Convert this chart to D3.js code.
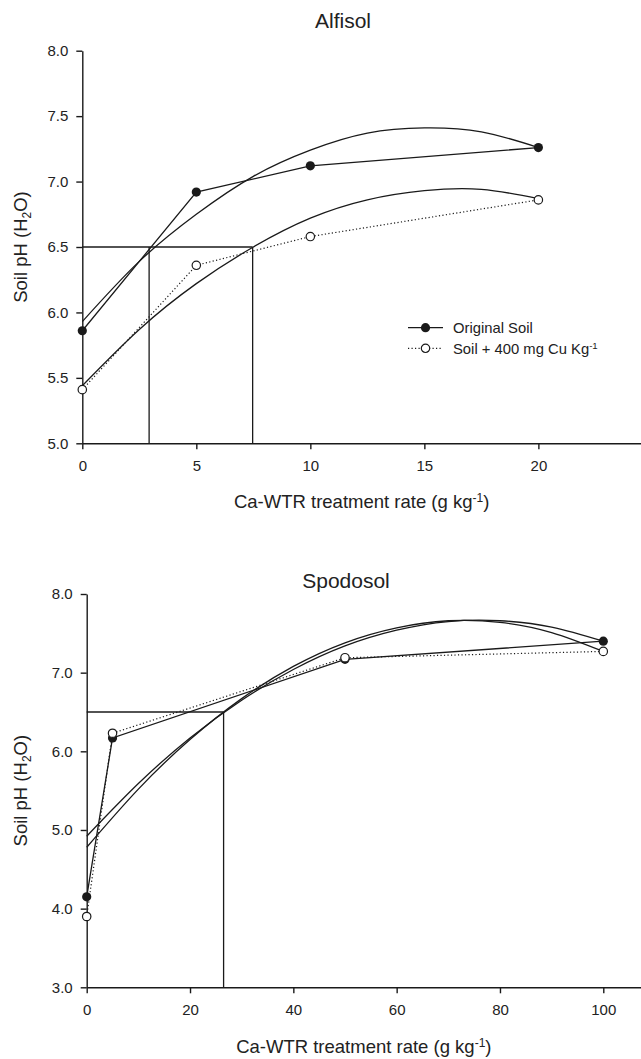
<!DOCTYPE html>
<html>
<head>
<meta charset="utf-8">
<script src="https://cdn.jsdelivr.net/npm/d3@7"></script>
<style>
  html, body { margin: 0; padding: 0; background: #fff; }
  svg { display: block; font-family: "Liberation Sans", Arial, Helvetica, sans-serif; }
</style>
</head>
<body>
<div id="chart"></div>
<script>
// Alfisol panel values
const alfisol_rates = [0, 5, 10, 20];
const alfisol_original = [5.86, 6.92, 7.12, 7.26];
const alfisol_cu = [5.41, 6.36, 6.58, 6.86];
const alfisol_fit_rates = [0, 2.5, 5, 7.5, 10, 12.5, 15, 17.5, 20];
const alfisol_fit_original = [5.93, 6.39, 6.75, 7.04, 7.24, 7.37, 7.41, 7.38, 7.26];
const alfisol_fit_cu = [5.44, 5.87, 6.22, 6.50, 6.72, 6.86, 6.93, 6.94, 6.87];
const alfisol_ref_ph = 6.5;
const alfisol_ref_rates = [2.93, 7.47];
const alfisol_x_ticks = [0, 5, 10, 15, 20];
const alfisol_y_ticks = [5.0, 5.5, 6.0, 6.5, 7.0, 7.5, 8.0];

// Spodosol panel values
const spodosol_rates = [0, 5, 50, 100];
const spodosol_original = [4.15, 6.17, 7.17, 7.40];
const spodosol_cu = [3.90, 6.23, 7.19, 7.27];
const spodosol_fit_rates = [0, 10, 20, 30, 40, 50, 60, 70, 80, 90, 100];
const spodosol_fit_original = [4.92, 5.59, 6.17, 6.65, 7.04, 7.34, 7.54, 7.65, 7.66, 7.58, 7.40];
const spodosol_fit_cu = [4.78, 5.52, 6.15, 6.67, 7.08, 7.38, 7.57, 7.66, 7.64, 7.51, 7.27];
const spodosol_ref_ph = 6.5;
const spodosol_ref_rates = [26.5];
const spodosol_x_ticks = [0, 20, 40, 60, 80, 100];
const spodosol_y_ticks = [3, 4, 5, 6, 7, 8];

const legend_labels = ["Original Soil", "Soil + 400 mg Cu Kg"];

const INK = "#1a1a1a";
const width = 641;
const height = 1059;

const svg = d3.select("#chart").append("svg")
  .attr("width", width)
  .attr("height", height)
  .attr("viewBox", `0 0 ${width} ${height}`);

function draw_panel(panel) {
  const x = d3.scaleLinear().domain(panel.x_domain).range(panel.x_range);
  const y = d3.scaleLinear().domain(panel.y_domain).range(panel.y_range);
  const g = svg.append("g");
  const y_base = panel.y_range[0];

  const x_axis = g.append("g")
    .attr("transform", `translate(0,${y_base})`)
    .call(d3.axisBottom(x).tickValues(panel.x_ticks).tickFormat(d3.format("d"))
      .tickSizeInner(6).tickSizeOuter(0).tickPadding(11));
  const y_axis = g.append("g")
    .attr("transform", `translate(${panel.x_range[0]},0)`)
    .call(d3.axisLeft(y).tickValues(panel.y_ticks).tickFormat(d3.format(".1f"))
      .tickSizeInner(6).tickSizeOuter(0).tickPadding(8));
  [x_axis, y_axis].forEach((axis) => {
    axis.attr("font-family", null).attr("font-size", 15);
    axis.selectAll("path, line").attr("stroke", INK).attr("stroke-width", 1.4);
    axis.selectAll("text").attr("fill", "#222");
  });

  // critical pH reference lines
  const ref_y = y(panel.ref_ph);
  g.append("line")
    .attr("x1", x(0)).attr("x2", x(d3.max(panel.ref_rates)))
    .attr("y1", ref_y).attr("y2", ref_y)
    .attr("stroke", INK).attr("stroke-width", 1.3);
  panel.ref_rates.forEach((rate) => {
    g.append("line")
      .attr("x1", x(rate)).attr("x2", x(rate))
      .attr("y1", y_base).attr("y2", ref_y)
      .attr("stroke", INK).attr("stroke-width", 1.3);
  });

  // fitted quadratic curves
  const curve = d3.line()
    .x((d) => x(d[0]))
    .y((d) => y(d[1]))
    .curve(d3.curveNatural);
  [panel.fit_original, panel.fit_cu].forEach((values) => {
    g.append("path")
      .attr("d", curve(d3.zip(panel.fit_rates, values)))
      .attr("fill", "none")
      .attr("stroke", INK)
      .attr("stroke-width", 1.3);
  });

  // measured points joined point to point
  const straight = d3.line().x((d) => x(d[0])).y((d) => y(d[1]));
  g.append("path")
    .attr("d", straight(d3.zip(panel.rates, panel.original)))
    .attr("fill", "none").attr("stroke", INK).attr("stroke-width", 1.3);
  g.append("path")
    .attr("d", straight(d3.zip(panel.rates, panel.cu)))
    .attr("fill", "none").attr("stroke", INK).attr("stroke-width", 1.2)
    .attr("stroke-dasharray", "1.2 2.3");

  g.append("g").selectAll("circle")
    .data(d3.zip(panel.rates, panel.original))
    .join("circle")
    .attr("cx", (d) => x(d[0])).attr("cy", (d) => y(d[1]))
    .attr("r", 4.6).attr("fill", INK);
  g.append("g").selectAll("circle")
    .data(d3.zip(panel.rates, panel.cu))
    .join("circle")
    .attr("cx", (d) => x(d[0])).attr("cy", (d) => y(d[1]))
    .attr("r", 4.2).attr("fill", "#fff").attr("stroke", INK).attr("stroke-width", 1.2);

  g.append("text")
    .attr("x", panel.title_x).attr("y", panel.title_y)
    .attr("text-anchor", "middle").attr("font-size", 21).attr("fill", "#222")
    .text(panel.title);

  const x_title = g.append("text")
    .attr("x", (panel.x_range[0] + panel.x_range[1]) / 2)
    .attr("y", panel.x_title_y)
    .attr("text-anchor", "middle").attr("font-size", 18.5).attr("fill", "#222");
  x_title.append("tspan").text("Ca-WTR treatment rate (g kg");
  x_title.append("tspan").attr("dy", "-0.5em").attr("font-size", "0.65em").text("-1");
  x_title.append("tspan").attr("dy", "0.325em").text(")");

  const y_title = g.append("text")
    .attr("transform", "rotate(-90)")
    .attr("x", -(panel.y_range[0] + panel.y_range[1]) / 2)
    .attr("y", 27)
    .attr("text-anchor", "middle").attr("font-size", 18.5).attr("fill", "#222");
  y_title.append("tspan").text("Soil pH (H");
  y_title.append("tspan").attr("dy", "0.3em").attr("font-size", "0.65em").text("2");
  y_title.append("tspan").attr("dy", "-0.195em").text("O)");

  return { x, y, g };
}

const top_panel = draw_panel({
  title: "Alfisol", title_x: 343, title_y: 28,
  x_domain: [0, 24.5], x_range: [82.3, 641],
  y_domain: [5, 8], y_range: [443.3, 50.7],
  x_ticks: alfisol_x_ticks, y_ticks: alfisol_y_ticks,
  rates: alfisol_rates, original: alfisol_original, cu: alfisol_cu,
  fit_rates: alfisol_fit_rates, fit_original: alfisol_fit_original, fit_cu: alfisol_fit_cu,
  ref_ph: alfisol_ref_ph, ref_rates: alfisol_ref_rates,
  x_title_y: 508,
});

draw_panel({
  title: "Spodosol", title_x: 346, title_y: 588,
  x_domain: [0, 107.3], x_range: [86.7, 641],
  y_domain: [3, 8], y_range: [987.3, 594],
  x_ticks: spodosol_x_ticks, y_ticks: spodosol_y_ticks,
  rates: spodosol_rates, original: spodosol_original, cu: spodosol_cu,
  fit_rates: spodosol_fit_rates, fit_original: spodosol_fit_original, fit_cu: spodosol_fit_cu,
  ref_ph: spodosol_ref_ph, ref_rates: spodosol_ref_rates,
  x_title_y: 1053,
});

// legend inside the Alfisol panel
const legend = top_panel.g.append("g").attr("transform", "translate(408,327.7)");
legend_labels.forEach((label, index) => {
  const row = legend.append("g").attr("transform", `translate(0,${index * 20.6})`);
  row.append("line")
    .attr("x1", 0).attr("x2", 35).attr("y1", 0).attr("y2", 0)
    .attr("stroke", INK).attr("stroke-width", index ? 1.2 : 1.3)
    .attr("stroke-dasharray", index ? "1.2 2.3" : null);
  row.append("circle")
    .attr("cx", 17.5).attr("cy", 0)
    .attr("r", index ? 4.2 : 4.6)
    .attr("fill", index ? "#fff" : INK)
    .attr("stroke", index ? INK : null)
    .attr("stroke-width", 1.2);
  const text = row.append("text")
    .attr("x", 45).attr("y", 5.5)
    .attr("font-size", 14.8).attr("fill", "#222");
  text.append("tspan").text(label);
  if (index) text.append("tspan").attr("dy", "-0.5em").attr("font-size", "0.65em").text("-1");
});
</script>
</body>
</html>
